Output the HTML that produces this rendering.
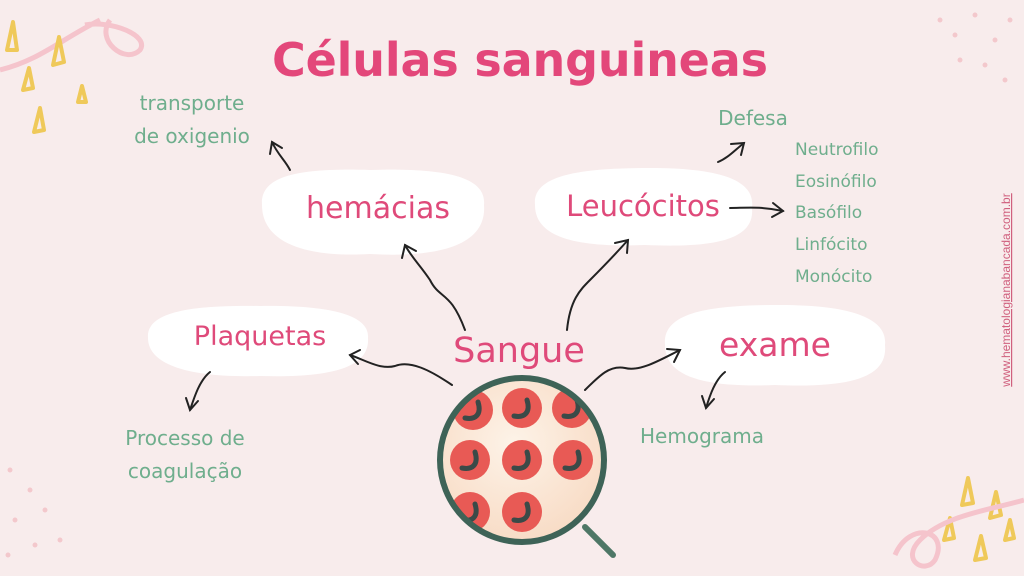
<!DOCTYPE html>
<html><head><meta charset="utf-8"><style>
body{margin:0;width:1024px;height:576px;overflow:hidden;background:#f8ecec;font-family:"Liberation Sans",sans-serif}
svg{display:block}
.g{fill:#6fae8d;font-family:"DejaVu Sans","Liberation Sans",sans-serif}
.p{fill:#df4a7a;font-family:"DejaVu Sans","Liberation Sans",sans-serif}
</style></head><body>
<svg width="1024" height="576" viewBox="0 0 1024 576">
<rect width="1024" height="576" fill="#f8ecec"/>
<path d="M0 70 C40 60 60 40 100 20 M85 25 C110 20 150 35 140 50 C125 65 95 40 110 20" stroke="#f5c4cc" stroke-width="5" fill="none"/>
<g stroke="#efc95a" stroke-width="4" fill="none" stroke-linejoin="round">
<path d="M7 50 L13 22 L17 50Z"/><path d="M53 65 L59 37 L64 62Z"/><path d="M23 90 L29 68 L33 88Z"/><path d="M78 102 L82 86 L86 102Z"/><path d="M34 132 L40 108 L44 130Z"/>
<path d="M962 505 L968 478 L973 503Z"/><path d="M990 518 L996 492 L1001 515Z"/><path d="M944 540 L950 518 L954 538Z"/><path d="M975 560 L981 536 L986 558Z"/><path d="M1005 540 L1010 520 L1014 538Z"/>
</g>
<path d="M895 555 C910 520 950 530 935 560 C925 575 900 560 920 540 C945 515 990 510 1024 500" stroke="#f5c4cc" stroke-width="5" fill="none"/>
<g fill="#f3c8cc">
<circle cx="940" cy="20" r="2.5"/><circle cx="955" cy="35" r="2.5"/><circle cx="975" cy="15" r="2.5"/><circle cx="995" cy="40" r="2.5"/><circle cx="1010" cy="20" r="2.5"/><circle cx="985" cy="65" r="2.5"/><circle cx="1005" cy="80" r="2.5"/><circle cx="960" cy="60" r="2.5"/>
<circle cx="10" cy="470" r="2.5"/><circle cx="30" cy="490" r="2.5"/><circle cx="15" cy="520" r="2.5"/><circle cx="45" cy="510" r="2.5"/><circle cx="35" cy="545" r="2.5"/><circle cx="60" cy="540" r="2.5"/><circle cx="8" cy="555" r="2.5"/>
</g>
<text x="520" y="76" text-anchor="middle" font-size="46" font-weight="bold" fill="#e3477a" font-family="'DejaVu Sans',sans-serif" textLength="496">Células sanguineas</text>
<g fill="#ffffff">
<path d="M262 205 C260 175 300 168 370 170 C440 168 487 175 484 205 C487 245 440 258 370 254 C300 258 262 240 262 205Z"/>
<path d="M535 205 C532 175 580 168 650 168 C720 168 756 180 752 208 C755 240 715 248 645 245 C570 248 535 235 535 205Z"/>
<path d="M148 338 C146 312 190 305 260 306 C330 305 370 315 368 338 C370 368 330 378 260 376 C190 378 148 365 148 338Z"/>
<path d="M665 345 C662 312 710 305 780 305 C850 305 888 318 885 345 C888 378 850 388 775 385 C700 388 665 375 665 345Z"/>
</g>
<text x="378" y="218" text-anchor="middle" font-size="30" class="p">hemácias</text>
<text x="643" y="216" text-anchor="middle" font-size="29" class="p">Leucócitos</text>
<text x="260" y="345" text-anchor="middle" font-size="27" class="p">Plaquetas</text>
<text x="775" y="356" text-anchor="middle" font-size="33" class="p">exame</text>
<text x="519" y="362" text-anchor="middle" font-size="35" class="p">Sangue</text>
<g font-size="20" class="g">
<text x="192" y="110" text-anchor="middle">transporte</text>
<text x="192" y="143" text-anchor="middle">de oxigenio</text>
<text x="753" y="125" text-anchor="middle">Defesa</text>
<text x="185" y="445" text-anchor="middle">Processo de</text>
<text x="185" y="478" text-anchor="middle">coagulação</text>
<text x="702" y="443" text-anchor="middle">Hemograma</text>
</g>
<g font-size="17" class="g">
<text x="795" y="155">Neutrofilo</text>
<text x="795" y="187">Eosinófilo</text>
<text x="795" y="218">Basófilo</text>
<text x="795" y="250">Linfócito</text>
<text x="795" y="282">Monócito</text>
</g>
<text transform="translate(1010 290) rotate(-90)" text-anchor="middle" font-size="12" fill="#d0607e" text-decoration="underline">www.hematologianabancada.com.br</text>
<g stroke="#222" stroke-width="2" fill="none" stroke-linecap="round">
<path d="M465 330 C450 290 440 300 430 280 C420 265 412 258 405 245"/><path d="M402 258 L405 245 L416 251"/>
<path d="M567 330 C570 300 580 290 590 280 C600 270 612 258 628 240"/><path d="M615 243 L628 240 L627 253"/>
<path d="M452 385 C430 370 410 360 395 366 C380 370 365 360 350 355"/><path d="M360 350 L350 355 L358 364"/>
<path d="M585 390 C600 375 610 365 625 368 C640 372 660 360 680 350"/><path d="M667 349 L680 350 L674 362"/>
<path d="M290 170 C285 160 278 155 272 142"/><path d="M270 154 L272 142 L282 148"/>
<path d="M718 162 C728 158 735 150 744 143"/><path d="M731 144 L744 143 L741 155"/>
<path d="M730 208 C745 208 760 206 783 211"/><path d="M773 203 L783 211 L772 217"/>
<path d="M210 372 C200 380 195 395 190 410"/><path d="M186 398 L190 410 L198 401"/>
<path d="M725 372 C715 380 710 395 706 408"/><path d="M702 396 L706 408 L714 399"/>
</g>
<defs><radialGradient id="lg" cx="0.45" cy="0.4" r="0.6"><stop offset="0" stop-color="#fdf3e8"/><stop offset="1" stop-color="#f8dcc6"/></radialGradient>
<clipPath id="cp"><circle cx="522" cy="460" r="82"/></clipPath></defs>
<line x1="585" y1="527" x2="613" y2="555" stroke="#4e7766" stroke-width="6" stroke-linecap="round"/>
<circle cx="522" cy="460" r="82" fill="url(#lg)"/>
<g clip-path="url(#cp)" fill="#e85a55">
<circle cx="473" cy="410" r="20"/><circle cx="522" cy="408" r="20"/><circle cx="572" cy="408" r="20"/>
<circle cx="470" cy="460" r="20"/><circle cx="522" cy="460" r="20"/><circle cx="573" cy="460" r="20"/>
<circle cx="470" cy="512" r="20"/><circle cx="522" cy="512" r="20"/>
</g>
<g clip-path="url(#cp)" stroke="#3a4a48" stroke-width="5" fill="none" stroke-linecap="round">
<path d="M478 402 C482 415 475 420 465 418"/><path d="M527 400 C531 413 524 418 514 416"/><path d="M577 400 C581 413 574 418 564 416"/>
<path d="M475 452 C479 465 472 470 462 468"/><path d="M527 452 C531 465 524 470 514 468"/><path d="M578 452 C582 465 575 470 565 468"/>
<path d="M475 504 C479 517 472 522 462 520"/><path d="M527 504 C531 517 524 522 514 520"/>
</g>
<circle cx="522" cy="460" r="82" fill="none" stroke="#3e6357" stroke-width="6"/>
</svg>
</body></html>
